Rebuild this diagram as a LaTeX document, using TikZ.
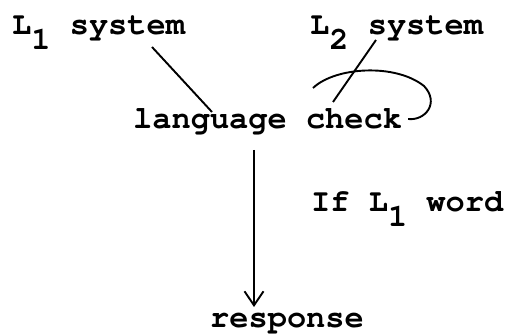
\documentclass[tikz,border=0pt]{standalone}
\usepackage[T1]{fontenc}
\usepackage{courier}
\usetikzlibrary{arrows.meta,calc}
\newcommand\lowr[1]{\raisebox{-0.45em}{#1}}

\begin{document}
\begin{tikzpicture}[x=1pt,y=1pt,
    txt/.style={inner sep=0pt,anchor=base west,font=\fontsize{32}{38}\selectfont\ttfamily\bfseries},
    link/.style={line width=1.9pt},
    flow/.style={line width=1.9pt,-{Straight Barb[length=14pt,width=19pt,line width=1.9pt]}}]
            \useasboundingbox (0,0) rectangle (509,335);
            \node[txt] (lone) at (12,300) {L\lowr{1} system};
            \node[txt] (ltwo) at (310,300) {L\lowr{2} system};
            \node[txt] (check) at (133,206) {language check};
            \node[txt] (cond) at (311,123) {If L\lowr{1} word};
            \node[txt] (resp) at (210,8) {response};
            \coordinate (loopstart) at (313,247);
            \draw[link] ([shift={(140,-12)}]lone.base west) -- ([shift={(79,17)}]check.base west);
            \draw[link] ([shift={(66,-5)}]ltwo.base west) -- ([shift={(200,27)}]check.base west);
            \draw[link] (loopstart) .. controls (335,268) and (395,272) .. (424,249)
                .. controls (440,232) and (425,214) .. ([shift={(6,10)}]check.base east);
            \draw[flow] ([shift={(121,-21)}]check.base west) -- ([shift={(44,20)}]resp.base west);
        \end{tikzpicture}
\end{document}
